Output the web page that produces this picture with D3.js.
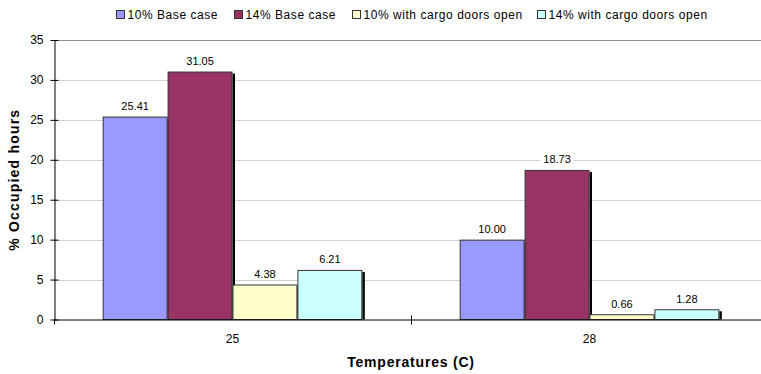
<!DOCTYPE html>
<html><head><meta charset="utf-8">
<script src="https://cdn.jsdelivr.net/npm/d3@7"></script>
<style>body{margin:0;background:#fff}svg{display:block}text{font-family:"Liberation Sans",Arial,sans-serif}</style>
</head><body>
<svg id="c" width="761" height="374"></svg>
<script>
const categories = ["25", "28"];
const seriesNames = ["10% Base case", "14% Base case", "10% with cargo doors open", "14% with cargo doors open"];
const seriesColors = ["#9999FF", "#993366", "#FFFFCC", "#CCFFFF"];
const s10Base = [25.41, 10.00];
const s14Base = [31.05, 18.73];
const s10Open = [4.38, 0.66];
const s14Open = [6.21, 1.28];
const yTicks = [0, 5, 10, 15, 20, 25, 30, 35];

const seriesValues = [s10Base, s14Base, s10Open, s14Open];
const svg = d3.select("#c");
const L = 54, R = 768, T = 40, B = 319.5;

const y = d3.scaleLinear().domain([0, 35]).range([B, T]);
const x0 = d3.scaleBand().domain(categories).range([L, R]).padding(0);
const x1 = d3.scaleBand().domain(d3.range(4)).range([0, x0.bandwidth()]).paddingInner(0).paddingOuter(0.75);

// gridlines
svg.append("g").selectAll("line").data(yTicks.filter(d => d > 0)).join("line")
  .attr("x1", L).attr("x2", R).attr("y1", d => Math.round(y(d)) + 0.5).attr("y2", d => Math.round(y(d)) + 0.5)
  .attr("stroke", d => d === 35 ? "#909090" : "#d0d0d0").attr("stroke-width", 1);

// bars
const bw = x1.bandwidth();
seriesValues.forEach((vals, si) => {
  const g = svg.append("g");
  vals.forEach((v, ci) => {
    const bx = x0(categories[ci]) + x1(si);
    const by = y(v);
    g.append("rect").attr("x", bx + bw).attr("y", by + 2).attr("width", 2.5).attr("height", Math.max(0, B - by - 2)).attr("fill", "#000");
    g.append("rect").attr("x", bx + 0.5).attr("y", by + 0.5).attr("width", bw - 1).attr("height", Math.max(0, B - by - 0.5))
      .attr("fill", seriesColors[si]).attr("stroke", "#333").attr("stroke-width", 1);
  });
});

// labels
seriesValues.forEach((vals, si) => {
  vals.forEach((v, ci) => {
    const cx = x0(categories[ci]) + x1(si) + bw / 2;
    const ty = y(v) - 6.5;
    const t = svg.append("text").attr("x", cx).attr("y", ty).attr("text-anchor", "middle")
      .attr("font-size", 11).attr("fill", "#000").text(v.toFixed(2));
    const bb = t.node().getBBox();
    svg.insert("rect", () => t.node()).attr("x", bb.x - 3).attr("y", bb.y).attr("width", bb.width + 6).attr("height", bb.height).attr("fill", "#fff");
  });
});

// y axis
const yAxis = d3.axisLeft(y).tickValues(yTicks).tickSize(4).tickSizeOuter(0);
const ga = svg.append("g").attr("transform", `translate(${L + 0.5},0)`).call(yAxis);
ga.select(".domain").attr("stroke", "#000");
ga.selectAll(".tick line").attr("stroke", "#000").attr("x1", 4).attr("x2", -4);
ga.selectAll(".tick text").attr("font-size", 12).attr("font-family", "Liberation Sans, Arial").attr("fill", "#000").attr("x", -11);

// x axis
svg.append("line").attr("x1", L).attr("x2", R).attr("y1", B + 0.5).attr("y2", B + 0.5).attr("stroke", "#000");
const divs = categories.map(c => x0(c) + x0.bandwidth());
svg.append("g").selectAll("line").data(divs).join("line")
  .attr("x1", d => Math.round(d) + 0.5).attr("x2", d => Math.round(d) + 0.5).attr("y1", B - 4).attr("y2", B + 5).attr("stroke", "#000");
svg.append("line").attr("x1", L + 0.5).attr("x2", L + 0.5).attr("y1", B).attr("y2", B + 5).attr("stroke", "#000");
svg.append("g").selectAll("text").data(categories).join("text")
  .attr("x", d => x0(d) + x0.bandwidth() / 2).attr("y", 343).attr("text-anchor", "middle")
  .attr("font-size", 12).attr("fill", "#000").text(d => d);

// axis titles
svg.append("text").attr("x", (L + R) / 2).attr("y", 367).attr("text-anchor", "middle")
  .attr("font-size", 14).attr("letter-spacing", 0.8).attr("font-weight", "bold").text("Temperatures (C)");
svg.append("text").attr("transform", `translate(19,${(T + B) / 2}) rotate(-90)`).attr("text-anchor", "middle")
  .attr("font-size", 14).attr("letter-spacing", 1.2).attr("font-weight", "bold").text("% Occupied hours");

// legend
const legX = [116, 234, 352, 537];
const lg = svg.append("g");
seriesNames.forEach((n, i) => {
  lg.append("rect").attr("x", legX[i] + 0.5).attr("y", 10.5).attr("width", 8).attr("height", 8)
    .attr("fill", seriesColors[i]).attr("stroke", "#333");
  lg.append("text").attr("x", legX[i] + 11.5).attr("y", 19).attr("font-size", 12).attr("letter-spacing", 0.55).attr("fill", "#000").text(n);
});
</script>
</body></html>
